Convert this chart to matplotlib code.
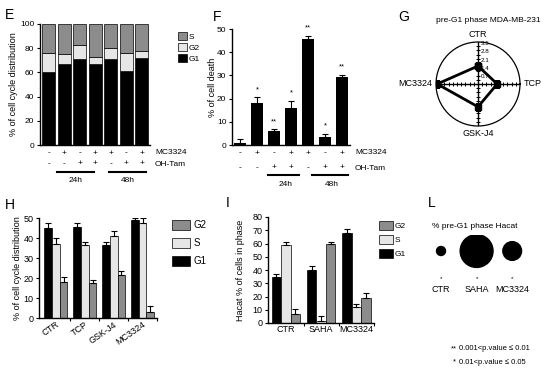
import numpy as np
import matplotlib
matplotlib.use('Agg')
import matplotlib.pyplot as plt
from matplotlib.patches import Patch
from matplotlib.lines import Line2D
from matplotlib.transforms import blended_transform_factory

plt.rcParams['font.family'] = ['Liberation Sans', 'DejaVu Sans']
plt.rcParams['axes.linewidth'] = 1.0

# --- E: cell cycle distribution (stacked %) ---
e_g1 = [60, 67, 71, 67, 71, 61, 72]
e_g2 = [16, 8, 12, 6, 9, 15, 6]
e_s = [24, 25, 17, 27, 20, 24, 22]
mc3324_row = ['-', '+', '-', '+', '+', '-', '+']
ohtam_row = ['-', '-', '+', '+', '-', '+', '+']

# --- F: % of cell death ---
f_death = [1, 18, 6, 16, 45.5, 3.5, 29.5]
f_err = [1.5, 2.5, 0.8, 3, 1.5, 1.3, 0.7]
f_stars = ['', '*', '**', '*', '**', '*', '**']

# --- G: radar, pre-G1 MDA-MB-231 ---
g_labels = ['CTR', 'TCP', 'GSK-J4', 'MC3324']
g_angles = [90, 0, 270, 180]
g_values = [1.5, 1.6, 1.9, 3.4]
g_rticks = [0.7, 1.4, 2.1, 2.8, 3.5]

# --- H: cell cycle distribution per treatment ---
h_groups = ['CTR', 'TCP', 'GSK-J4', 'MC3324']
h_g1 = [45, 45.5, 36.5, 49]
h_g1_err = [2.5, 2, 1.5, 0.8]
h_s = [37, 36.5, 41, 47.5]
h_s_err = [3, 1.5, 2.5, 2.5]
h_g2 = [18, 17.5, 21.5, 3]
h_g2_err = [2.5, 1.3, 2, 3]

# --- I: Hacat % of cells in phase ---
i_groups = ['CTR', 'SAHA', 'MC3324']
i_g1 = [35, 40, 68]
i_g1_err = [2, 3, 3]
i_s = [58.5, 1.5, 12]
i_s_err = [3, 4, 2.5]
i_g2 = [7, 59.5, 19]
i_g2_err = [3.5, 2, 4]

# --- L: % pre-G1 Hacat (bubble size) ---
l_groups = ['CTR', 'SAHA', 'MC3324']
l_preg1 = [3, 40, 13]

DARK = '#8c8c8c'
LIGHT = '#e6e6e6'
W, H = 550, 370


def px(x0, y0, x1, y1):
    # pixel box -> figure fraction rect
    return [x0 / W, 1 - y1 / H, (x1 - x0) / W, (y1 - y0) / H]


def fy(y):
    return 1 - y / H


def style(ax, fs=6):
    ax.spines['top'].set_visible(False)
    ax.spines['right'].set_visible(False)
    ax.tick_params(labelsize=fs, length=2.5, width=0.8, pad=1.5)


def up_err(vals, errs):
    return [np.zeros(len(errs)), errs]


fig = plt.figure(figsize=(5.5, 3.7), dpi=100)

# ---------------- E ----------------
ax = fig.add_axes(px(40, 24, 150, 145))
x = np.arange(len(e_g1))
ax.bar(x, e_g1, 0.84, color='black', edgecolor='black', lw=0.5)
ax.bar(x, e_g2, 0.84, bottom=e_g1, color=LIGHT, edgecolor='black', lw=0.5)
ax.bar(x, e_s, 0.84, bottom=np.add(e_g1, e_g2), color=DARK, edgecolor='black', lw=0.5)
ax.set_xlim(-0.58, 6.52)
ax.set_ylim(0, 100)
ax.set_yticks(range(0, 101, 20))
ax.set_xticks([])
style(ax)
ax.set_ylabel('% of cell cycle distribution', fontsize=6.5)
ax.yaxis.set_label_coords(-0.2, 0.5)
ax.legend(handles=[Patch(fc=DARK, ec='black', lw=0.5, label='S'),
                   Patch(fc=LIGHT, ec='black', lw=0.5, label='G2'),
                   Patch(fc='black', ec='black', lw=0.5, label='G1')],
          loc='upper left', bbox_to_anchor=(174 / W, fy(28)), bbox_transform=fig.transFigure,
          frameon=False, fontsize=6, handlelength=1.0, handleheight=1.0,
          labelspacing=0.3, handletextpad=0.3, borderpad=0)
tr = blended_transform_factory(ax.transData, fig.transFigure)
for i in x:
    ax.text(i, fy(153), mc3324_row[i], transform=tr, ha='center', va='center', fontsize=6)
    ax.text(i, fy(164), ohtam_row[i], transform=tr, ha='center', va='center', fontsize=6)
fig.text(155 / W, fy(153), 'MC3324', ha='left', va='center', fontsize=6)
fig.text(155 / W, fy(164), 'OH-Tam', ha='left', va='center', fontsize=6)
for a, b, lab in [(0.52, 2.9, '24h'), (3.87, 6.26, '48h')]:
    fig.add_artist(Line2D([a, b], [fy(172), fy(172)], transform=tr, color='black', lw=1.5))
    ax.text((a + b) / 2, fy(180), lab, transform=tr, ha='center', va='center', fontsize=6)
fig.text(5 / W, fy(15), 'E', fontsize=10, va='center')

# ---------------- F ----------------
ax = fig.add_axes(px(232, 29, 350, 145))
x = np.arange(len(f_death))
ax.bar(x, f_death, 0.68, color='black', yerr=up_err(f_death, f_err),
       error_kw=dict(ecolor='black', capsize=2, elinewidth=0.8, capthick=0.8))
for i in x:
    if f_stars[i]:
        ax.annotate(f_stars[i], (i, f_death[i] + f_err[i]), xytext=(0, 3),
                    textcoords='offset points', ha='center', va='bottom', fontsize=5.5)
ax.set_xlim(-0.47, 6.47)
ax.set_ylim(0, 50)
ax.set_yticks(range(0, 51, 10))
ax.set_xticks([])
style(ax)
ax.set_ylabel('% of cell death', fontsize=6.5)
ax.yaxis.set_label_coords(-0.13, 0.5)
tr = blended_transform_factory(ax.transData, fig.transFigure)
for i in x:
    ax.text(i, fy(153), mc3324_row[i], transform=tr, ha='center', va='center', fontsize=6)
    ax.text(i, fy(168), ohtam_row[i], transform=tr, ha='center', va='center', fontsize=6)
fig.text(355 / W, fy(153), 'MC3324', ha='left', va='center', fontsize=6)
fig.text(355 / W, fy(168), 'OH-Tam', ha='left', va='center', fontsize=6)
for a, b, lab in [(1.65, 3.47, '24h'), (4.24, 6.35, '48h')]:
    fig.add_artist(Line2D([a, b], [fy(175), fy(175)], transform=tr, color='black', lw=1.5))
    ax.text((a + b) / 2 + 0.1, fy(184), lab, transform=tr, ha='center', va='center', fontsize=6)
fig.text(213 / W, fy(17), 'F', fontsize=10, va='center')

# ---------------- G ----------------
ax = fig.add_axes(px(436, 42, 520, 126), projection='polar')
theta = np.deg2rad(g_angles)
ax.plot(np.append(theta, theta[0]), g_values + [g_values[0]], color='black', lw=2,
        marker='s', ms=5)
ax.set_ylim(0, 3.5)
ax.set_xticks(theta)
ax.set_xticklabels([])
ax.set_yticks(g_rticks)
ax.set_yticklabels([])
ax.yaxis.grid(False)
ax.xaxis.grid(True, color='black', lw=1)
ax.spines['polar'].set_linewidth(0.9)
small = np.arange(0.35, 3.5, 0.35)
for ang in theta:
    mk = '_' if ang in (np.deg2rad(90), np.deg2rad(270)) else '|'
    ax.plot(np.full(len(small), ang), small, ls='none', marker=mk, ms=2.5, mew=0.7, color='black')
for r in g_rticks:
    ax.annotate(f'{r}', (np.pi / 2, r), xytext=(2, -1), textcoords='offset points',
                ha='left', va='center', fontsize=4.5)
# category labels around the circle
offsets = {'CTR': ((0, 2), 'center', 'bottom'), 'TCP': ((3, 0), 'left', 'center'),
           'GSK-J4': ((0, -2), 'center', 'top'), 'MC3324': ((-3, 0), 'right', 'center')}
for ang, lab in zip(theta, g_labels):
    off, ha, va = offsets[lab]
    ax.annotate(lab, (ang, 3.5), xytext=off, textcoords='offset points', ha=ha, va=va,
                fontsize=6.5, annotation_clip=False)
fig.text(488 / W, fy(20), 'pre-G1 phase MDA-MB-231', ha='center', va='center', fontsize=6)
fig.text(398 / W, fy(17), 'G', fontsize=10, va='center')

# ---------------- H ----------------
ax = fig.add_axes(px(39, 218, 157, 318))
x = np.arange(len(h_groups))
w = 0.27
ek = dict(ecolor='black', capsize=2, elinewidth=0.8, capthick=0.8)
ax.bar(x - w, h_g1, w, color='black', edgecolor='black', lw=0.5, yerr=up_err(h_g1, h_g1_err), error_kw=ek)
ax.bar(x, h_s, w, color=LIGHT, edgecolor='black', lw=0.5, yerr=up_err(h_s, h_s_err), error_kw=ek)
ax.bar(x + w, h_g2, w, color=DARK, edgecolor='black', lw=0.5, yerr=up_err(h_g2, h_g2_err), error_kw=ek)
ax.set_xlim(-0.58, 3.45)
ax.set_ylim(0, 50)
ax.set_yticks(range(0, 51, 10))
ax.set_xticks(x)
ax.set_xticklabels(h_groups, rotation=35, ha='right', rotation_mode='anchor')
ax.set_xticks(x + 0.5, minor=True)
style(ax, 6.5)
ax.tick_params(axis='x', length=0)
ax.tick_params(axis='x', which='minor', length=2, width=0.8)
ax.set_ylabel('% of cell cycle distribution', fontsize=6.5)
ax.yaxis.set_label_coords(-0.14, 0.5)
ax.legend(handles=[Patch(fc=DARK, ec='black', lw=0.5, label='G2'),
                   Patch(fc=LIGHT, ec='black', lw=0.5, label='S'),
                   Patch(fc='black', ec='black', lw=0.5, label='G1')],
          loc='upper left', bbox_to_anchor=(167 / W, fy(215)), bbox_transform=fig.transFigure,
          frameon=False, fontsize=7, handlelength=1.9, handleheight=1.3,
          labelspacing=0.75, handletextpad=0.3, borderpad=0)
fig.text(5 / W, fy(205), 'H', fontsize=10, va='center')

# ---------------- I ----------------
ax = fig.add_axes(px(268, 217, 374, 323))
x = np.arange(len(i_groups))
ax.bar(x - w, i_g1, w, color='black', edgecolor='black', lw=0.5, yerr=up_err(i_g1, i_g1_err), error_kw=ek)
ax.bar(x, i_s, w, color=LIGHT, edgecolor='black', lw=0.5, yerr=up_err(i_s, i_s_err), error_kw=ek)
ax.bar(x + w, i_g2, w, color=DARK, edgecolor='black', lw=0.5, yerr=up_err(i_g2, i_g2_err), error_kw=ek)
ax.set_xlim(-0.51, 2.48)
ax.set_ylim(0, 80)
ax.set_yticks(range(0, 81, 10))
ax.set_xticks(x)
ax.set_xticklabels(i_groups)
ax.set_xticks(x + 0.5, minor=True)
style(ax, 6.5)
ax.tick_params(axis='x', length=0)
ax.tick_params(axis='x', which='minor', length=2, width=0.8)
ax.set_ylabel('Hacat % of cells in phase', fontsize=6.5)
ax.yaxis.set_label_coords(-0.22, 0.5)
ax.legend(handles=[Patch(fc=DARK, ec='black', lw=0.5, label='G2'),
                   Patch(fc=LIGHT, ec='black', lw=0.5, label='S'),
                   Patch(fc='black', ec='black', lw=0.5, label='G1')],
          loc='upper left', bbox_to_anchor=(375 / W, fy(217)), bbox_transform=fig.transFigure,
          frameon=False, fontsize=6, handlelength=1.6, handleheight=1.3,
          labelspacing=0.55, handletextpad=0.2, borderpad=0)
fig.text(226 / W, fy(203), 'I', fontsize=10, va='center')

# ---------------- L ----------------
ax = fig.add_axes(px(425, 235, 530, 285))
x = np.arange(len(l_groups))
ax.scatter(x, np.full(len(x), 0.68), s=np.array(l_preg1) * 14, color='black')
for i, lab in enumerate(l_groups):
    ax.text(i, -0.1, lab, ha='center', va='center', fontsize=6.5)
    ax.text(i, 0.12, '*', ha='center', va='center', fontsize=4.5)
ax.set_xlim(-0.45, 2.5)
ax.set_ylim(0, 1)
ax.axis('off')
fig.text(475 / W, fy(227), '% pre-G1 phase Hacat', ha='center', va='center', fontsize=6)
fig.text(428 / W, fy(203), 'L', fontsize=10, va='center')

# footnote
fig.text(451 / W, fy(349), '**', ha='left', va='center', fontsize=5.5)
fig.text(459 / W, fy(349), '0.001<p.value \u2264 0.01', ha='left', va='center', fontsize=5.5)
fig.text(453 / W, fy(362), '*', ha='left', va='center', fontsize=5.5)
fig.text(459 / W, fy(362), '0.01<p.value \u2264 0.05', ha='left', va='center', fontsize=5.5)

fig.savefig('out.png', dpi=100)
